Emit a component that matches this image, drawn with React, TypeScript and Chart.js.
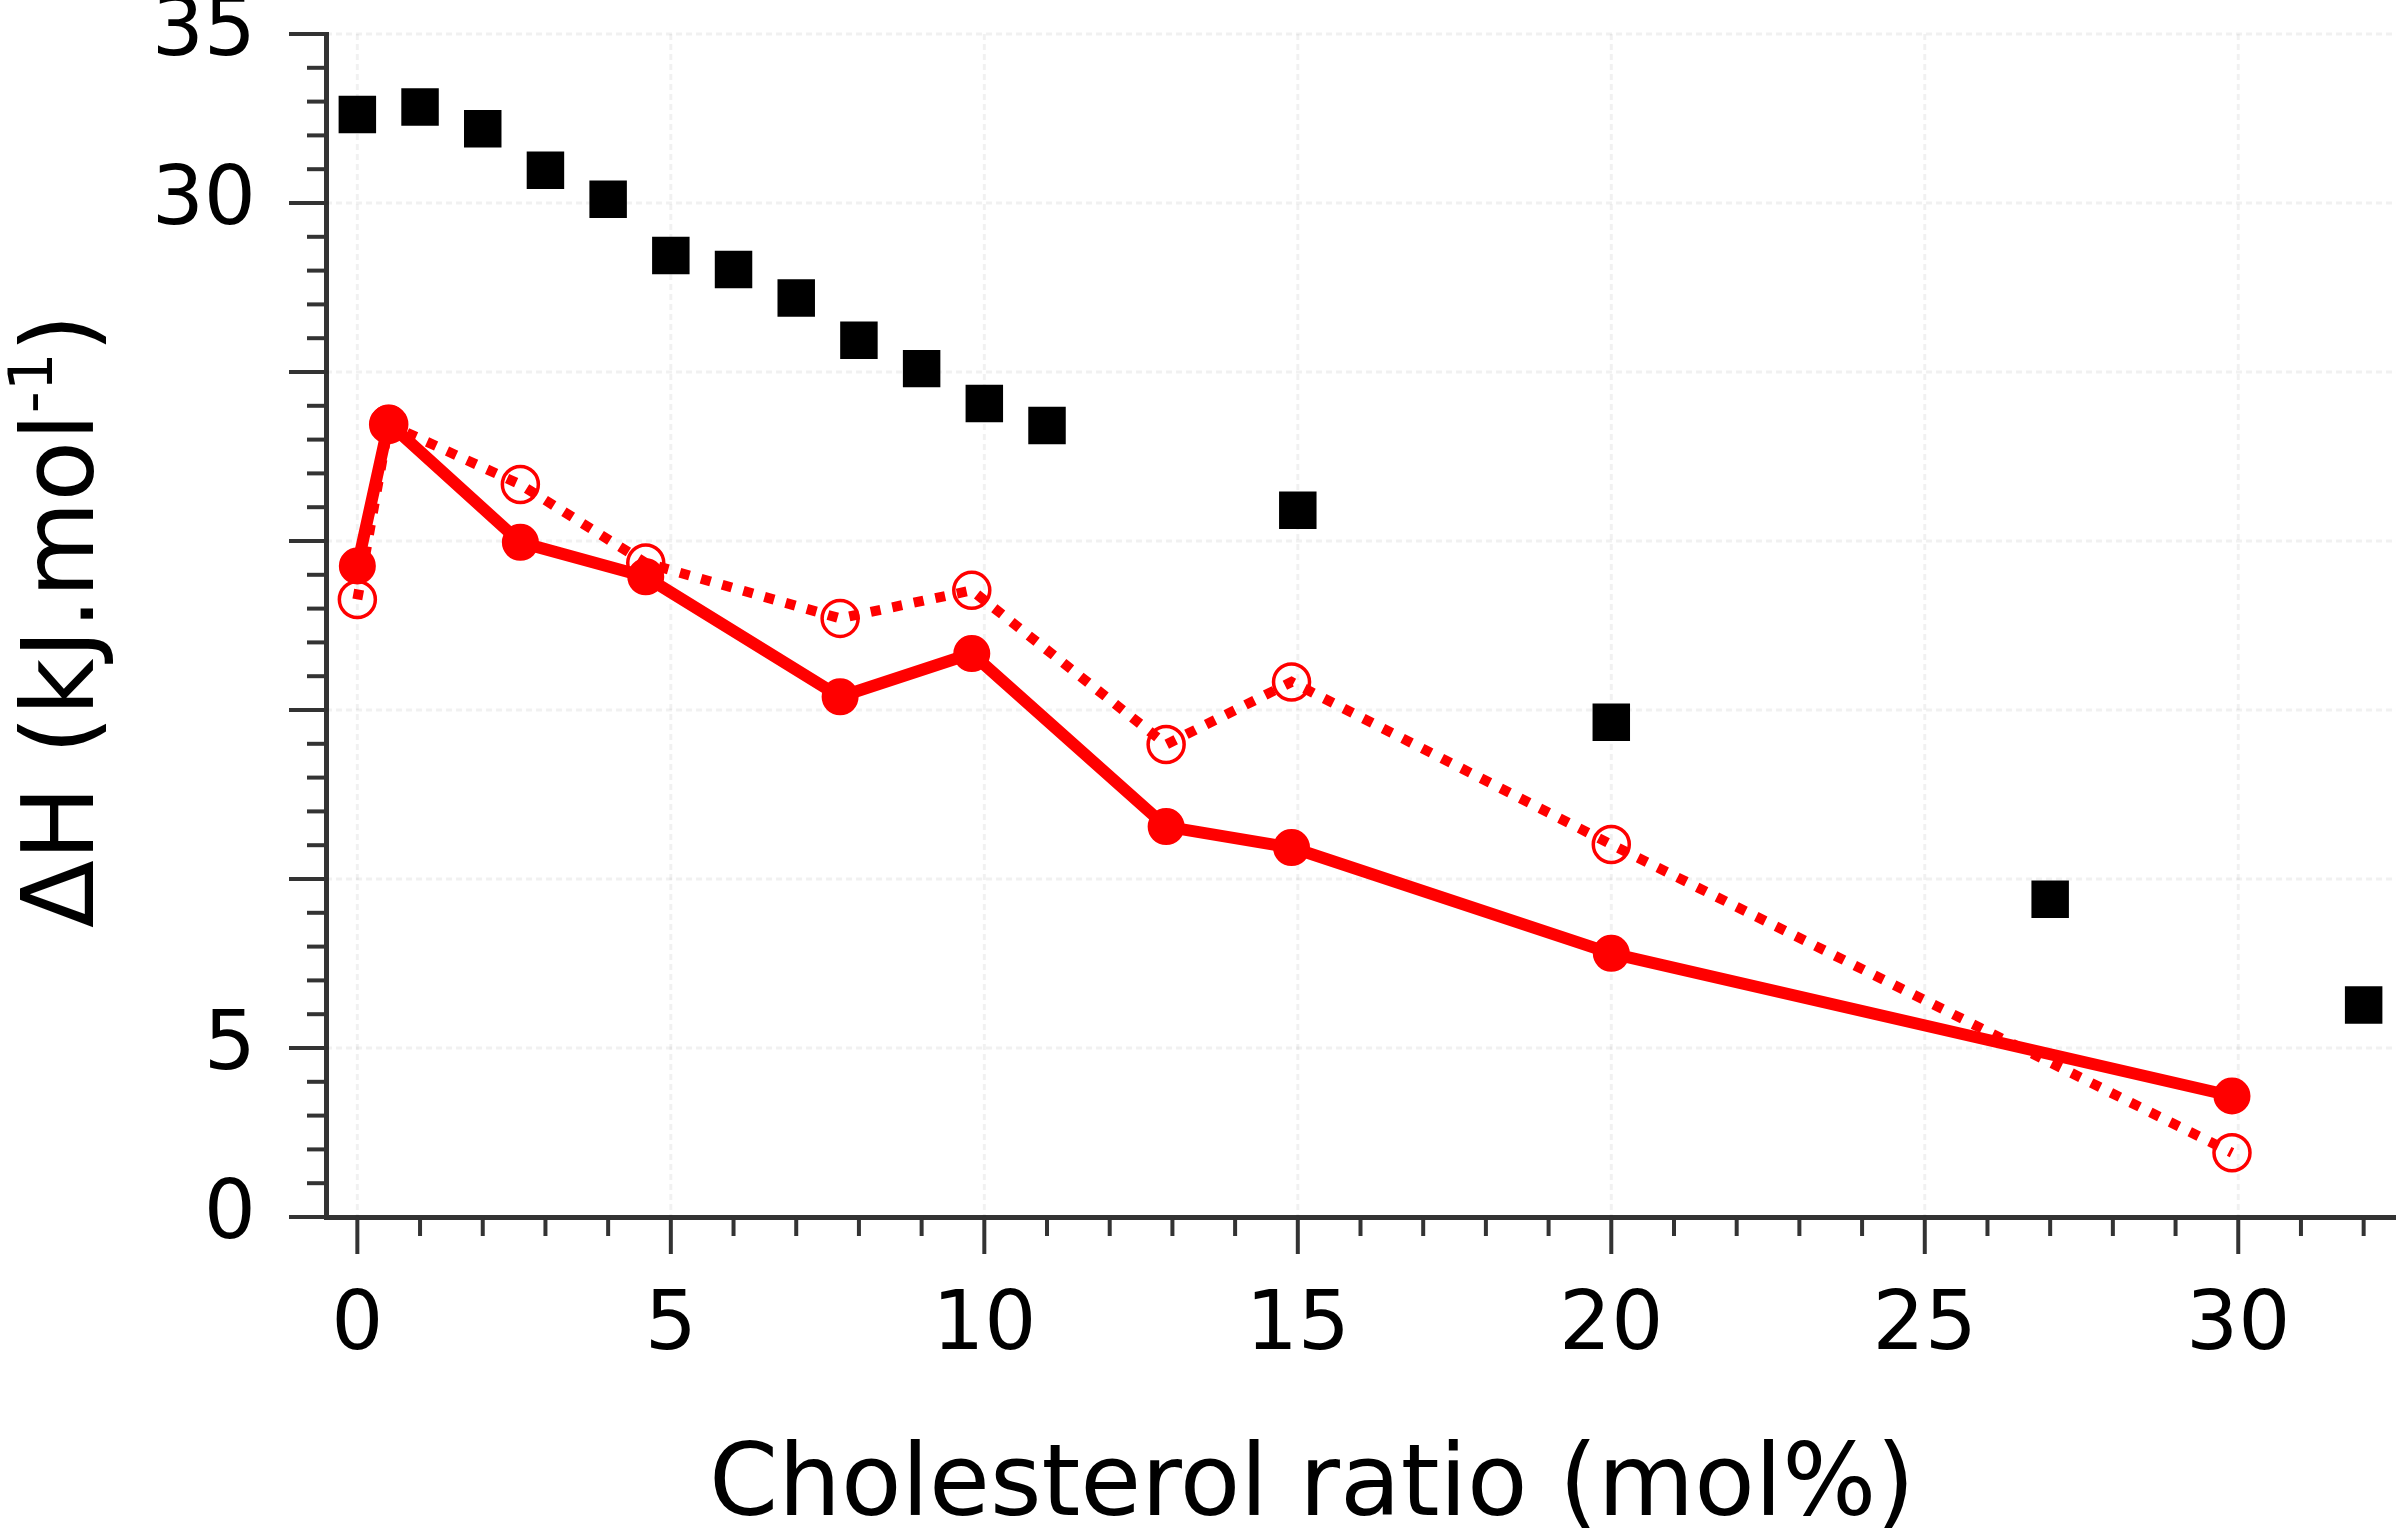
import React, { useEffect, useRef } from "react";
import { Chart, registerables } from "chart.js";

Chart.register(...registerables);

// ---- axis ranges & tick labels ----
const X_MIN = -0.5;
const X_MAX = 32.5;
const Y_MIN = 0;
const Y_MAX = 35;
const xTickLabels = [0, 5, 10, 15, 20, 25, 30];
const yTickLabels = [0, 5, 30, 35];

// ---- series: black squares ----
const squareX = [0, 1, 2, 3, 4, 5, 6, 7, 8, 9, 10, 11, 15, 20, 27, 32];
const squareY = [32.62, 32.84, 32.2, 30.97, 30.11, 28.45, 28.03, 27.19, 25.94, 25.1, 24.07, 23.42, 20.91, 14.64, 9.4, 6.27];

// ---- series: red (filled = solid line, open = dotted line) ----
const redX = [0, 0.5, 2.6, 4.6, 7.7, 9.8, 12.9, 14.9, 20, 29.9];
const filledY = [19.26, 23.49, 19.96, 18.94, 15.39, 16.67, 11.55, 10.93, 7.8, 3.58];
const openY = [18.27, 23.45, 21.67, 19.35, 17.71, 18.54, 13.98, 15.83, 11.02, 1.9];

const xTitle = "Cholesterol ratio (mol%)";
const yTitleMain = "\u0394H (kJ.mol";
const yTitleSup = "-1";
const yTitleEnd = ")";

const FONT = "'DejaVu Sans', 'Liberation Sans', sans-serif";
const RED = "#ff0000";
const AXIS = "#333333";

export default function App() {
  const ref = useRef<HTMLCanvasElement | null>(null);

  useEffect(() => {
    document.body.style.margin = "0";
    document.body.style.overflow = "hidden";
    const canvas = ref.current!;
    Chart.defaults.font.family = FONT;

    const decor = {
      id: "decor",
      beforeDatasetsDraw(chart: any) {
        const { ctx, chartArea: a, scales } = chart;
        const x = scales.x;
        const y = scales.y;
        ctx.save();
        ctx.strokeStyle = "rgba(0,0,0,0.055)";
        ctx.lineWidth = 3;
        ctx.setLineDash([6, 4]);
        for (const t of x.ticks) {
          if (t.value % 5 !== 0) continue;
          const px = x.getPixelForValue(t.value);
          ctx.beginPath();
          ctx.moveTo(px, a.top);
          ctx.lineTo(px, a.bottom);
          ctx.stroke();
        }
        for (const t of y.ticks) {
          if (t.value % 5 !== 0 || t.value === Y_MIN) continue;
          const py = y.getPixelForValue(t.value);
          ctx.beginPath();
          ctx.moveTo(a.left, py);
          ctx.lineTo(a.right, py);
          ctx.stroke();
        }
        ctx.restore();
      },
      afterDraw(chart: any) {
        const { ctx, chartArea: a, scales } = chart;
        const x = scales.x;
        const y = scales.y;
        ctx.save();
        ctx.strokeStyle = AXIS;
        ctx.lineWidth = 4;
        ctx.lineCap = "butt";
        for (const t of x.ticks) {
          const len = t.value % 5 === 0 ? 37 : 19;
          const px = x.getPixelForValue(t.value);
          ctx.beginPath();
          ctx.moveTo(px, a.bottom);
          ctx.lineTo(px, a.bottom + len);
          ctx.stroke();
        }
        for (const t of y.ticks) {
          const len = t.value % 5 === 0 ? 37 : 19;
          const py = y.getPixelForValue(t.value);
          ctx.beginPath();
          ctx.moveTo(a.left, py);
          ctx.lineTo(a.left - len, py);
          ctx.stroke();
        }

        // x title
        ctx.fillStyle = "#000";
        ctx.font = `99px ${FONT}`;
        ctx.textAlign = "center";
        ctx.textBaseline = "alphabetic";
        ctx.fillText(xTitle, 1312, 1515);

        // y title (rotated, with superscript)
        const mainFont = `99px ${FONT}`;
        const supFont = `61px ${FONT}`;
        ctx.font = mainFont;
        const w1 = ctx.measureText(yTitleMain).width;
        const w3 = ctx.measureText(yTitleEnd).width;
        ctx.font = supFont;
        const w2 = ctx.measureText(yTitleSup).width;
        const total = w1 + w2 + w3;
        ctx.translate(93, 621);
        ctx.rotate(-Math.PI / 2);
        ctx.textAlign = "left";
        let cx = -total / 2;
        ctx.font = mainFont;
        ctx.fillText(yTitleMain, cx, 0);
        cx += w1;
        ctx.font = supFont;
        ctx.fillText(yTitleSup, cx, -41);
        cx += w2;
        ctx.font = mainFont;
        ctx.fillText(yTitleEnd, cx, 0);
        ctx.restore();
      },
    };

    const chart = new Chart(canvas, {
      type: "scatter",
      data: {
        datasets: [
          {
            label: "filled",
            data: redX.map((v, i) => ({ x: v, y: filledY[i] })),
            showLine: true,
            borderColor: RED,
            backgroundColor: RED,
            borderWidth: 12,
            borderJoinStyle: "round",
            pointStyle: "circle",
            pointRadius: 17,
            pointBorderWidth: 3,
            pointBackgroundColor: RED,
            pointBorderColor: RED,
            clip: false,
          },
          {
            label: "open",
            data: redX.map((v, i) => ({ x: v, y: openY[i] })),
            showLine: true,
            borderColor: RED,
            backgroundColor: "rgba(0,0,0,0)",
            borderWidth: 10,
            borderDash: [10, 12],
            borderCapStyle: "butt",
            pointStyle: "circle",
            pointRadius: 18,
            pointBorderWidth: 3.5,
            pointBackgroundColor: "rgba(0,0,0,0)",
            pointBorderColor: RED,
            clip: false,
          },
          {
            label: "squares",
            data: squareX.map((v, i) => ({ x: v, y: squareY[i] })),
            showLine: false,
            pointStyle: "rect",
            pointRadius: 26.5,
            pointBorderWidth: 0,
            pointBackgroundColor: "#000",
            pointBorderColor: "#000",
            clip: false,
          },
        ],
      } as any,
      options: {
        animation: false,
        responsive: false,
        devicePixelRatio: 1,
        events: [],
        layout: { autoPadding: false, padding: { top: 34, right: 5, left: 0, bottom: 0 } },
        plugins: { legend: { display: false }, tooltip: { enabled: false } },
        scales: {
          x: {
            type: "linear",
            min: X_MIN,
            max: X_MAX,
            afterBuildTicks: (scale: any) => {
              const t: any[] = [];
              for (let v = Math.ceil(scale.min); v <= Math.floor(scale.max); v++) t.push({ value: v });
              scale.ticks = t;
            },
            afterFit: (scale: any) => {
              scale.height = 315;
              scale.paddingLeft = 0;
              scale.paddingRight = 0;
            },
            grid: { display: false, drawTicks: false },
            border: { display: true, color: AXIS, width: 5 },
            ticks: {
              autoSkip: false,
              maxRotation: 0,
              minRotation: 0,
              padding: 62,
              color: "#000",
              font: { size: 82, family: FONT },
              callback: (v: any) => (xTickLabels.includes(Number(v)) ? String(v) : ""),
            },
          },
          y: {
            type: "linear",
            min: Y_MIN,
            max: Y_MAX,
            afterBuildTicks: (scale: any) => {
              const t: any[] = [];
              for (let v = Math.ceil(scale.min); v <= Math.floor(scale.max); v++) t.push({ value: v });
              scale.ticks = t;
            },
            afterFit: (scale: any) => {
              scale.width = 326;
              scale.paddingTop = 0;
              scale.paddingBottom = 0;
            },
            grid: { display: false, drawTicks: false },
            border: { display: true, color: AXIS, width: 5 },
            ticks: {
              autoSkip: false,
              padding: 70,
              color: "#000",
              font: { size: 82, family: FONT },
              callback: (v: any) => (yTickLabels.includes(Number(v)) ? String(v) : ""),
            },
          },
        },
      } as any,
      plugins: [decor],
    });

    return () => chart.destroy();
  }, []);

  return (
    <canvas
      ref={ref}
      width={2400}
      height={1532}
      style={{ display: "block", width: "2400px", height: "1532px" }}
    />
  );
}
